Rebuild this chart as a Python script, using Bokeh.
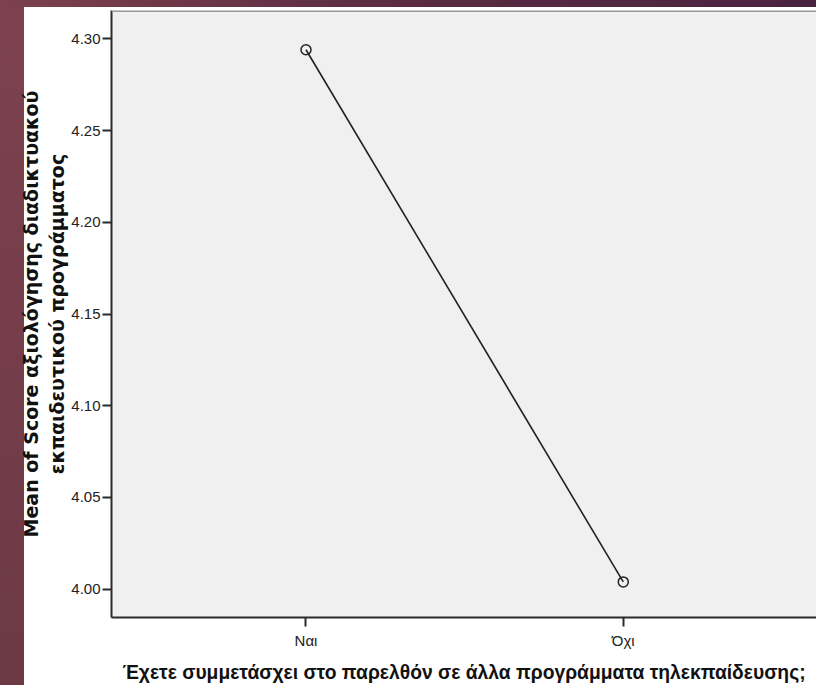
from bokeh.plotting import figure
from bokeh.models import Range1d, FixedTicker, Span
from bokeh.embed import file_html
from bokeh.resources import INLINE

# ---- data ----
categories = ["Ναι", "Όχι"]
means = [4.294, 4.004]
y_ticks = [4.00, 4.05, 4.10, 4.15, 4.20, 4.25, 4.30]
x_title = "Έχετε συμμετάσχει στο παρελθόν σε άλλα προγράμματα τηλεκπαίδευσης;"
y_title = "Mean of Score αξιολόγησης διαδικτυακού\nεκπαιδευτικού προγράμματος"

x_pos = list(range(len(categories)))

p = figure(width=816, height=685, output_backend="svg", toolbar_location=None,
           x_range=Range1d(-0.613, 1.609), y_range=Range1d(3.9846, 4.3154),
           min_border_left=111, min_border_right=0, min_border_top=10, min_border_bottom=68)

# slide background (maroon strips on top and left) shown through a transparent border
p.border_fill_color = None
p.styles = {
    "background-color": "white",
    "background-image": "linear-gradient(to right, #7c414d, #5a2b42, #4a2340), "
                        "linear-gradient(#7d424e, #6c3945)",
    "background-size": "100% 7px, 24px 100%",
    "background-repeat": "no-repeat",
    "background-position": "0 0, 0 0",
}

p.background_fill_color = "#f0f0f0"
p.outline_line_color = None
p.grid.visible = False

p.line(x_pos, means, line_color="#222222", line_width=1.6)
p.scatter(x_pos, means, marker="circle", size=10, fill_color=None,
          line_color="#222222", line_width=1.5)

p.add_layout(Span(location=p.y_range.end, dimension="width",
                  line_color="#9a9a9a", line_width=3))

for ax in (p.xaxis, p.yaxis):
    ax.axis_line_color = "#2b2b2b"
    ax.axis_line_width = 2
    ax.major_tick_line_color = "#2b2b2b"
    ax.major_tick_line_width = 2
    ax.major_tick_out = 9
    ax.major_tick_in = 0
    ax.minor_tick_line_color = None
    ax.major_label_text_font = "Liberation Sans"
    ax.major_label_text_font_size = "15px"
    ax.major_label_text_color = "#222222"
    ax.axis_label_text_font_style = "bold"
    ax.axis_label_text_color = "#111111"

p.xaxis.ticker = FixedTicker(ticks=x_pos)
p.xaxis.major_label_overrides = {i: c for i, c in zip(x_pos, categories)}
p.xaxis.major_label_standoff = 5
p.xaxis.axis_label = x_title
p.xaxis.axis_label_text_font = "Liberation Sans"
p.xaxis.axis_label_text_font_size = "19.3px"
p.xaxis.axis_label_standoff = 10

p.yaxis.ticker = FixedTicker(ticks=y_ticks)
p.yaxis.major_label_overrides = {t: f"{t:.2f}" for t in y_ticks}
p.yaxis.major_label_standoff = 2
p.yaxis.axis_label = y_title
p.yaxis.axis_label_text_font = "DejaVu Sans"
p.yaxis.axis_label_text_font_size = "19px"
p.yaxis.axis_label_text_line_height = 1.2
p.yaxis.axis_label_standoff = 0

open("out.html", "w").write(file_html(p, INLINE))
